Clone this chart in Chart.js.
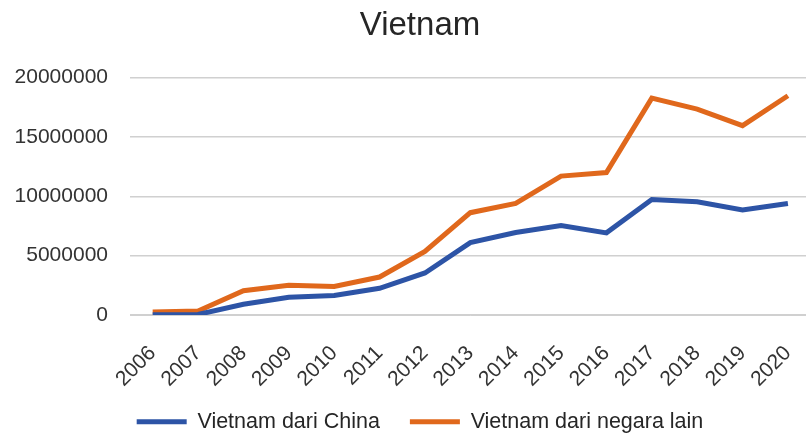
<!DOCTYPE html>
<html>
<head>
<meta charset="utf-8">
<script src="https://cdn.jsdelivr.net/npm/chart.js@4/dist/chart.umd.min.js"></script>
<style>
  body { margin: 0; background: #fff; overflow: hidden; }
  #wrap { width: 806px; height: 437px; overflow: hidden; }
  #box { width: 824px; height: 437px; }
</style>
</head>
<body>
<div id="wrap"><div id="box"><canvas id="vietnamChart"></canvas></div></div>
<script>
var years = ["2006","2007","2008","2009","2010","2011","2012","2013","2014","2015","2016","2017","2018","2019","2020"];
var dariChina = [30000, 50000, 900000, 1500000, 1650000, 2250000, 3540000, 6100000, 6950000, 7530000, 6920000, 9730000, 9540000, 8840000, 9400000];
var dariNegaraLain = [250000, 330000, 2050000, 2500000, 2400000, 3200000, 5360000, 8620000, 9400000, 11700000, 12000000, 18270000, 17350000, 15950000, 18470000];
var yTicks = [0, 5000000, 10000000, 15000000, 20000000];

var fontName = "'Liberation Sans', Arial, sans-serif";

// wide gap between legend items, without letting the legend eat the plot
var tightLayout = {
  id: "tightLayout",
  afterInit: function (chart) {
    var lg = chart.legend;
    var fit = lg.fit;
    lg.fit = function () {
      fit.call(this);
      this.height = 54;
    };
  },
  afterLayout: function (chart) {
    // labels are clipped to their scale box; let them spill over
    chart.scales.x.bottom = chart.height;
    chart.scales.y.left = 0;
  }
};

new Chart("vietnamChart", {
  type: "line",
  data: {
    labels: years,
    datasets: [{
      label: "Vietnam dari China",
      data: dariChina,
      borderColor: "#2d54a6",
      backgroundColor: "#2d54a6",
      borderWidth: 5,
      pointRadius: 0,
      tension: 0
    }, {
      label: "Vietnam dari negara lain",
      data: dariNegaraLain,
      borderColor: "#e0681c",
      backgroundColor: "#e0681c",
      borderWidth: 5,
      pointRadius: 0,
      tension: 0
    }]
  },
  plugins: [tightLayout],
  options: {
    responsive: true,
    maintainAspectRatio: false,
    animation: false,
    layout: { padding: { left: 24, right: 8, top: 2, bottom: 2 } },
    plugins: {
      title: {
        display: true,
        text: "Vietnam",
        color: "#262626",
        font: { family: fontName, size: 33, weight: "normal" },
        padding: { top: 4, bottom: 32 }
      },
      legend: {
        position: "bottom",
        labels: {
          color: "#262626",
          font: { family: fontName, size: 21.5 },
          usePointStyle: true,
          pointStyle: "line",
          pointStyleWidth: 50,
          padding: 30
        }
      },
      tooltip: { enabled: false }
    },
    scales: {
      x: {
        offset: true,
        grid: { display: false },
        border: { color: "#d0d0d0" },
        afterFit: function (axis) { axis.height = 66; },
        ticks: {
          color: "#333",
          font: { family: fontName, size: 21 },
          maxRotation: 45,
          minRotation: 45,
          padding: 18
        }
      },
      y: {
        min: 0,
        max: 20000000,
        afterBuildTicks: function (axis) {
          axis.ticks = yTicks.map(function (v) { return { value: v }; });
        },
        afterFit: function (axis) { axis.width = 106; },
        grid: { color: "#d0d0d0", lineWidth: 1.5, drawTicks: false },
        border: { display: false },
        ticks: {
          color: "#333",
          font: { family: fontName, size: 21 },
          padding: 22,
          callback: function (v) { return String(v); }
        }
      }
    }
  }
});
</script>
</body>
</html>
